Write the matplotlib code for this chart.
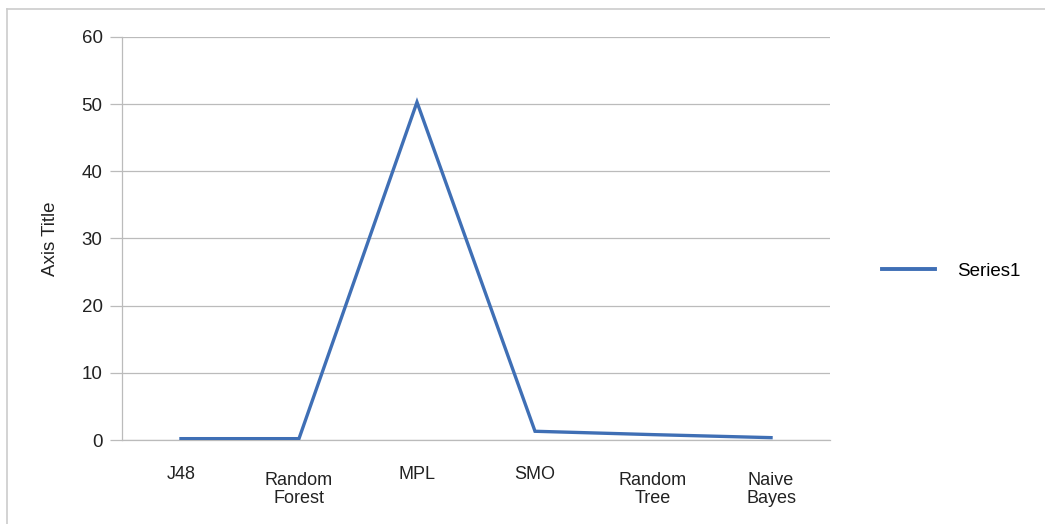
import matplotlib.pyplot as plt
import matplotlib.transforms as mtransforms
from matplotlib.lines import Line2D

# Values
categories = ['J48', 'Random\nForest', 'MPL', 'SMO', 'Random\nTree', 'Naive\nBayes']
series1 = [0.2, 0.2, 50.3, 1.3, 0.8, 0.35]
y_ticks = [0, 10, 20, 30, 40, 50, 60]

plt.rcParams['font.family'] = ['Liberation Sans', 'DejaVu Sans']

fig = plt.figure(figsize=(10.45, 5.24), dpi=100)
ax = fig.add_axes([0.1167, 0.1603, 0.6776, 0.7691])

x = list(range(len(categories)))
ax.plot(x, series1, color='#3F6FB5', linewidth=2.4, label='Series1',
        solid_joinstyle='miter', zorder=3)

ax.set_xlim(-0.5, len(categories) - 0.5)
ax.set_ylim(0, 60)
ax.set_yticks(y_ticks)
ax.set_yticklabels([str(v) for v in y_ticks], fontsize=13.5, color='#222222')
ax.set_xticks(x)
ax.set_xticklabels(categories, fontsize=13, color='#222222', linespacing=1.05)
ax.tick_params(axis='x', length=0, pad=19)
ax.tick_params(axis='y', length=9, width=0.9, color='#BBBBBB', pad=5)

# two-line category labels sit a little lower than the one-line ones
shift = mtransforms.ScaledTranslation(0, -6 / 100, fig.dpi_scale_trans)
for lbl in ax.get_xticklabels():
    if '\n' in lbl.get_text():
        lbl.set_transform(lbl.get_transform() + shift)

ax.grid(axis='y', color='#BBBBBB', linewidth=0.9)
ax.set_axisbelow(True)
for s in ['top', 'right']:
    ax.spines[s].set_visible(False)
for s in ['left', 'bottom']:
    ax.spines[s].set_color('#BBBBBB')
    ax.spines[s].set_linewidth(0.9)

ax.set_ylabel('Axis Title', fontsize=13.5, color='#222222', labelpad=16)

fig.legend(handles=[Line2D([0], [0], color='#3F6FB5', linewidth=2.8)],
           labels=['Series1'], loc='center left', bbox_to_anchor=(0.828, 0.482),
           frameon=False, fontsize=13.5, handlelength=2.8, handletextpad=1.2)

# light frame around the chart area (left and top edges)
fig.add_artist(Line2D([7 / 1045, 7 / 1045], [0, 1 - 9 / 524], transform=fig.transFigure,
                      color='#CCCCCC', linewidth=1.2))
fig.add_artist(Line2D([7 / 1045, 1], [1 - 9 / 524, 1 - 9 / 524], transform=fig.transFigure,
                      color='#CCCCCC', linewidth=1.2))

fig.savefig('out.png', dpi=100, facecolor='white')
